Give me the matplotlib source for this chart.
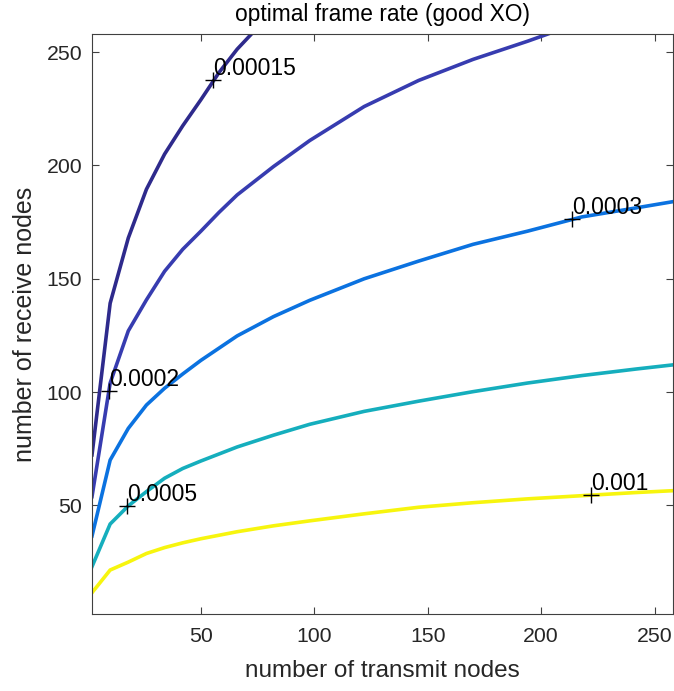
import numpy as np
import matplotlib.pyplot as plt

plt.rcParams['font.family'] = ['Liberation Sans', 'DejaVu Sans']

# contour levels of the optimal frame rate and their traced curves
# (number of transmit nodes -> number of receive nodes)
levels = [0.00015, 0.0002, 0.0003, 0.0005, 0.001]
colors = ['#2e2a8c', '#373cb0', '#0b72e0', '#15aebd', '#f7f50e']

x_015 = [2, 10, 18, 26, 34, 42, 50, 58, 66, 72.3]
y_015 = [72.3, 139.2, 168, 189.5, 205, 217.5, 229, 241, 251.3, 258]

x_02 = [2, 10, 18, 26, 34, 42, 50, 58, 66, 82, 98, 122, 146, 170, 194, 203]
y_02 = [53.9, 104, 127, 140.7, 153.3, 163, 171, 179.3, 187, 199.5, 211,
        226, 237.5, 246.8, 254.8, 258]

x_03 = [2, 10, 18, 26, 34, 42, 50, 66, 82, 98, 122, 146, 170, 194, 218, 242, 258]
y_03 = [36.5, 70, 84, 94.3, 101.7, 108, 114, 124.8, 133.3, 140.5, 150,
        157.8, 165.2, 171, 177.3, 181.3, 184]

x_05 = [2, 10, 18, 26, 34, 42, 50, 66, 82, 98, 122, 146, 170, 194, 218, 242, 258]
y_05 = [23, 41.8, 49.8, 56.1, 62, 66.3, 69.6, 75.8, 81, 85.8, 91.5,
        96, 100.2, 104, 107.3, 110.2, 112]

x_1 = [2, 10, 18, 26, 34, 42, 50, 66, 82, 98, 122, 146, 170, 194, 218, 242, 258]
y_1 = [11.5, 21.5, 25, 28.8, 31.4, 33.5, 35.3, 38.4, 41, 43.2, 46.3,
       49.2, 51.2, 52.9, 54.3, 55.7, 56.5]

curves_x = [x_015, x_02, x_03, x_05, x_1]
curves_y = [y_015, y_02, y_03, y_05, y_1]

# where the level labels sit on each curve
label_x = [55.4, 9.4, 213.7, 17.6, 222]
label_y = [237.7, 100.6, 176.3, 49.8, 54.6]
label_txt = ['0.00015', '0.0002', '0.0003', '0.0005', '0.001']

fig = plt.figure(figsize=(6.74, 6.91), dpi=100)
ax = fig.add_axes([0.1365, 0.1111, 0.8615, 0.8397])

for xs, ys, c in zip(curves_x, curves_y, colors):
    ax.plot(xs, ys, color=c, lw=2.6, solid_joinstyle='miter')

for lx, ly, t in zip(label_x, label_y, label_txt):
    ax.plot(lx, ly, marker='+', color='k', ms=11, mew=1.0)
    ax.annotate(t, (lx, ly), xytext=(0, 5), textcoords='offset pixels',
                ha='left', va='baseline', fontsize=16.5, color='k')

ax.set_xlim(2, 258)
ax.set_ylim(2, 258)
ax.set_xticks([50, 100, 150, 200, 250])
ax.set_yticks([50, 100, 150, 200, 250])

axc = '#404040'
for s in ax.spines.values():
    s.set_color(axc)
    s.set_linewidth(0.8)
ax.tick_params(direction='in', length=5, width=0.8, color=axc,
               labelsize=15.3, labelcolor='#262626', top=True, right=True)
ax.tick_params(axis='x', pad=9)
ax.tick_params(axis='y', pad=7)

ax.set_title('optimal frame rate (good XO)', fontsize=16.4, color='k', pad=9)
ax.set_xlabel('number of transmit nodes', fontsize=17.5, color='#262626', labelpad=10)
ax.set_ylabel('number of receive nodes', fontsize=18, color='#262626', labelpad=7)

fig.savefig('out.png', dpi=100)
